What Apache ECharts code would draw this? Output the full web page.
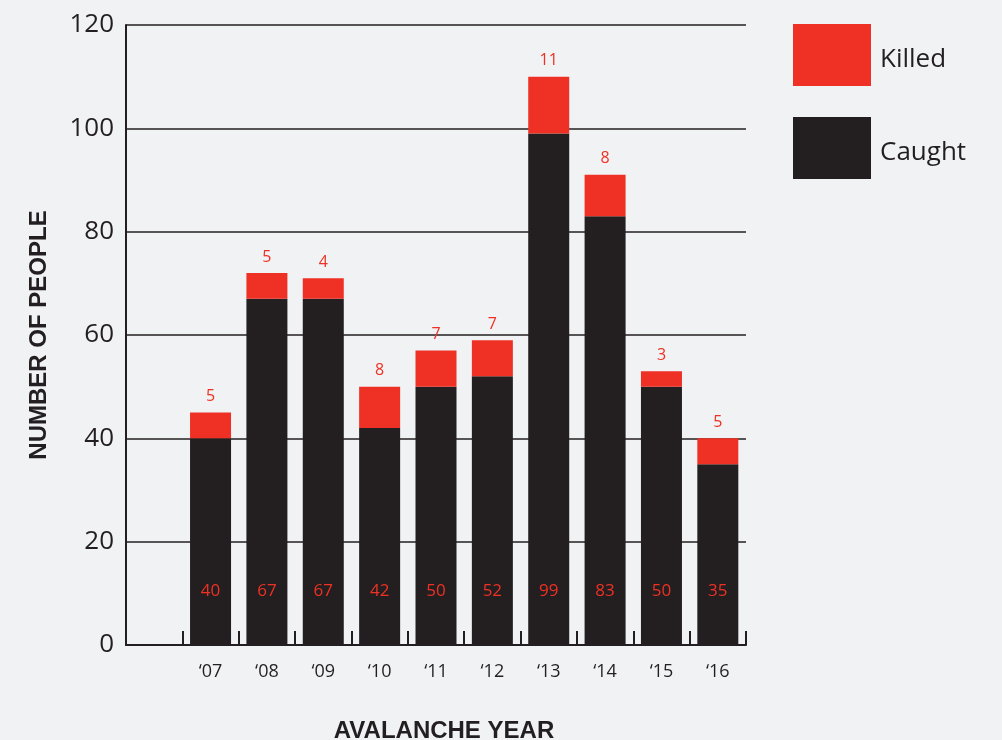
<!DOCTYPE html>
<html>
<head>
<meta charset="utf-8">
<script src="https://cdn.jsdelivr.net/npm/echarts@6/dist/echarts.min.js"></script>
<style>
html,body{margin:0;padding:0;background:#f1f2f4;overflow:hidden;}
#chart{width:1002px;height:740px;}
</style>
</head>
<body>
<div id="chart"></div>
<script>
const years = ['‘07','‘08','‘09','‘10','‘11','‘12','‘13','‘14','‘15','‘16'];
const caught = [40, 67, 67, 42, 50, 52, 99, 83, 50, 35];
const killed = [5, 5, 4, 8, 7, 7, 11, 8, 3, 5];
const yTicks = [0, 20, 40, 60, 80, 100, 120];

const FONT = '"Open Sans", Lato, sans-serif';
const BOLD = '"Liberation Sans", Arial, sans-serif';
const DARK = '#231f20';
const RED = '#ee3124';

// leading empty slot before the first year
const cats = [''].concat(years);
const caughtData = [null].concat(caught);
const killedData = [null].concat(killed);

const chart = echarts.init(document.getElementById('chart'));
chart.setOption({
  backgroundColor: '#f1f2f4',
  animation: false,
  grid: { left: 126, right: 256, top: 25, bottom: 95, containLabel: false, outerBoundsMode: 'none' },
  legend: {
    left: 793, top: 24, orient: 'vertical', padding: 0,
    itemWidth: 78, itemHeight: 62, itemGap: 31, icon: 'rect',
    data: ['Killed', 'Caught'],
    formatter: '{t|{name}}',
    textStyle: {
      fontFamily: FONT, fontSize: 26, color: DARK,
      rich: { t: { fontFamily: FONT, fontSize: 26, color: DARK, padding: [10, 0, 0, 4] } }
    }
  },
  xAxis: {
    type: 'category', data: cats, boundaryGap: true,
    name: 'AVALANCHE YEAR', nameLocation: 'middle', nameGap: 74,
    nameTextStyle: { fontFamily: BOLD, fontWeight: 'bold', fontSize: 24, color: DARK, padding: [0,0,0,16] },
    axisLine: { lineStyle: { color: DARK, width: 2 } },
    axisTick: { show: true, inside: true, length: 14, lineStyle: { color: DARK, width: 2 } },
    axisLabel: { fontFamily: FONT, fontSize: 18, color: DARK, margin: 18 },
    splitLine: { show: false }
  },
  yAxis: {
    type: 'value', min: yTicks[0], max: yTicks[yTicks.length-1], interval: yTicks[1]-yTicks[0],
    name: 'NUMBER OF PEOPLE', nameLocation: 'middle', nameRotate: 90, nameGap: 75,
    nameTextStyle: { fontFamily: BOLD, fontWeight: 'bold', fontSize: 24, color: DARK },
    axisLine: { show: true, lineStyle: { color: DARK, width: 2 } },
    axisTick: { show: false },
    axisLabel: { fontFamily: FONT, fontSize: 26, color: DARK, margin: 12 },
    splitLine: { show: true, lineStyle: { color: DARK, width: 1.5 } }
  },
  series: [
    {
      name: 'Caught', type: 'bar', stack: 'total', barWidth: 41,
      data: caughtData,
      itemStyle: { color: DARK },
      label: { show: true, position: 'insideBottom', distance: 45, color: RED, fontFamily: FONT, fontSize: 17 }
    },
    {
      name: 'Killed', type: 'bar', stack: 'total', barWidth: 41,
      data: killedData,
      itemStyle: { color: RED },
      label: { show: true, position: 'top', distance: 8, color: RED, fontFamily: FONT, fontSize: 16 }
    }
  ]
});
</script>
</body>
</html>
